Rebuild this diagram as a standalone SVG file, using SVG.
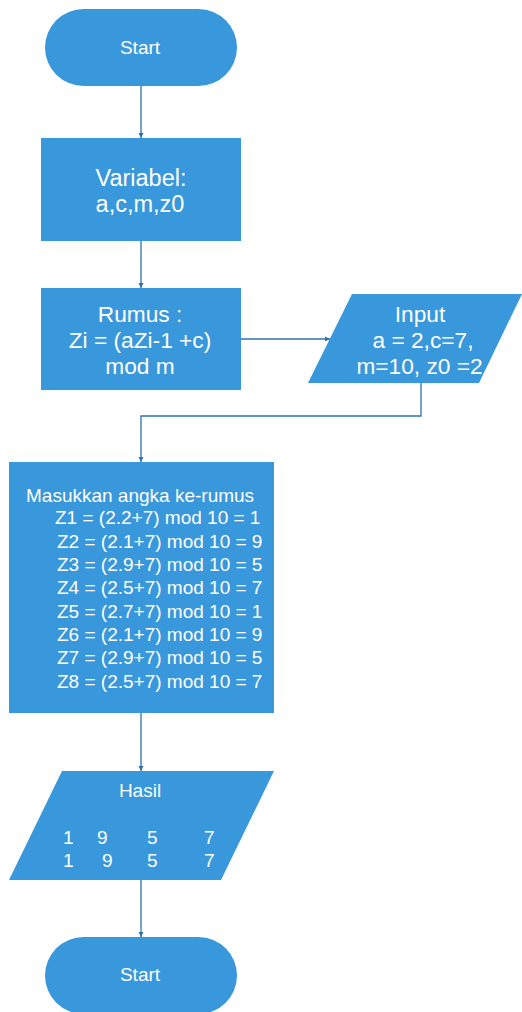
<svg xmlns="http://www.w3.org/2000/svg" width="522" height="1012" viewBox="0 0 522 1012">
<style>
.shape{fill:#3898db;stroke:none}
.line{fill:none;stroke:#2f72a8;stroke-width:1.3}
text{font-family:"Liberation Sans",Arial,sans-serif;fill:#ffffff}
.t14{font-size:19px}
.t20{font-size:23.5px}
.t19{font-size:22.7px}
.t15{font-size:19px}
.c{text-anchor:middle}
</style>
<defs>
<marker id="ah" markerWidth="6" markerHeight="6" refX="5" refY="3" orient="auto" markerUnits="userSpaceOnUse">
<path d="M0,0.5 L5,3 L0,5.5 Z" fill="#2f72a8"/>
</marker>
</defs>
<rect width="522" height="1012" fill="#ffffff"/>
<g id="connectors">
<line class="line" x1="141" y1="86" x2="141" y2="138" marker-end="url(#ah)"/>
<line class="line" x1="141" y1="241" x2="141" y2="288" marker-end="url(#ah)"/>
<line class="line" x1="241" y1="339" x2="330" y2="339" marker-end="url(#ah)"/>
<polyline class="line" points="421,383 421,416 141,416 141,462" marker-end="url(#ah)"/>
<line class="line" x1="141" y1="713" x2="141" y2="771" marker-end="url(#ah)"/>
<line class="line" x1="141" y1="880" x2="141" y2="937" marker-end="url(#ah)"/>
</g>
<g id="start">
<rect class="shape" x="45" y="9" width="192" height="77" rx="38.5"/>
<text class="t14 c" x="140" y="54">Start</text>
</g>
<g id="variabel">
<rect class="shape" x="41" y="138" width="200" height="103"/>
<text class="t20 c" x="141" y="186">Variabel:</text>
<text class="t20 c" x="140" y="212">a,c,m,z0</text>
</g>
<g id="rumus">
<rect class="shape" x="41" y="288" width="200" height="102"/>
<text class="t19 c" x="140" y="322">Rumus :</text>
<text class="t19 c" x="140" y="348">Zi = (aZi-1 +c)</text>
<text class="t19 c" x="140" y="374">mod m</text>
</g>
<g id="input">
<polygon class="shape" points="352,294 522,294 479,383 308,383"/>
<text class="t19 c" x="420" y="322">Input</text>
<text class="t19 c" x="423" y="348">a = 2,c=7,</text>
<text class="t19 c" x="419.5" y="374">m=10, z0 =2</text>
</g>
<g id="proses">
<rect class="shape" x="9" y="462" width="265" height="251"/>
<text class="t15" x="26" y="502">Masukkan angka ke-rumus</text>
<text class="t15" x="55" y="524">Z1 = (2.2+7) mod 10 = 1</text>
<text class="t15" x="57" y="548">Z2 = (2.1+7) mod 10 = 9</text>
<text class="t15" x="57" y="571">Z3 = (2.9+7) mod 10 = 5</text>
<text class="t15" x="57" y="594">Z4 = (2.5+7) mod 10 = 7</text>
<text class="t15" x="57" y="618">Z5 = (2.7+7) mod 10 = 1</text>
<text class="t15" x="57" y="641">Z6 = (2.1+7) mod 10 = 9</text>
<text class="t15" x="57" y="664">Z7 = (2.9+7) mod 10 = 5</text>
<text class="t15" x="57" y="688">Z8 = (2.5+7) mod 10 = 7</text>
</g>
<g id="hasil">
<polygon class="shape" points="62,771 274,771 221,880 9,880"/>
<text class="t14 c" x="140" y="797">Hasil</text>
<text class="t15" x="63" y="844">1</text>
<text class="t15" x="97" y="844">9</text>
<text class="t15" x="147" y="844">5</text>
<text class="t15" x="204" y="844">7</text>
<text class="t15" x="63" y="867">1</text>
<text class="t15" x="102" y="867">9</text>
<text class="t15" x="147" y="867">5</text>
<text class="t15" x="204" y="867">7</text>
</g>
<g id="end">
<rect class="shape" x="45" y="937" width="192" height="77" rx="38.5"/>
<text class="t14 c" x="140" y="981">Start</text>
</g>
</svg>
